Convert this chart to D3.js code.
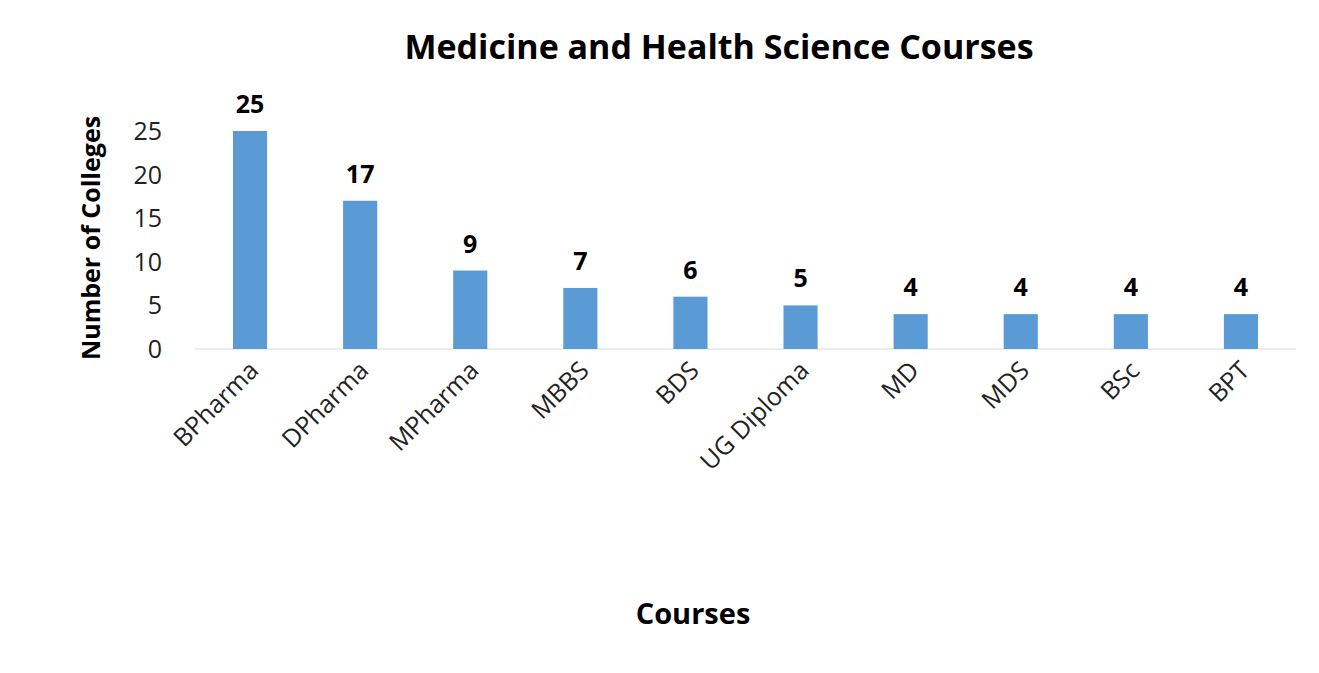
<!DOCTYPE html><html><head><meta charset="utf-8">
<script src="https://cdn.jsdelivr.net/npm/d3@7"></script>
<style>body{margin:0;background:#fff}text{font-family:"Open Sans",sans-serif}</style></head><body>
<svg id="c" width="1319" height="673"></svg>
<script>
const categories=["BPharma","DPharma","MPharma","MBBS","BDS","UG Diploma","MD","MDS","BSc","BPT"];
const values=[25,17,9,7,6,5,4,4,4,4];
const yTicks=[0,5,10,15,20,25];
const svg=d3.select("#c");
const x=d3.scaleBand().domain(categories).range([195,1296]).paddingInner(0.69).paddingOuter(0.345);
const y=d3.scaleLinear().domain([0,25]).range([349,131]);
svg.append("text").attr("x",719).attr("y",59).attr("text-anchor","middle").attr("font-size",34).attr("font-weight","bold").text("Medicine and Health Science Courses");
svg.append("line").attr("x1",195).attr("x2",1296).attr("y1",349).attr("y2",349).attr("stroke","#d9d9d9");
svg.selectAll(".yt").data(yTicks).join("text").attr("x",162).attr("y",d=>y(d)+9).attr("text-anchor","end").attr("font-size",25).attr("fill","#222").text(d=>d);
svg.selectAll(".b").data(values).join("rect").attr("x",(d,i)=>x(categories[i])).attr("width",x.bandwidth()).attr("y",d=>y(d)).attr("height",d=>349-y(d)).attr("fill","#5b9bd5");
svg.selectAll(".v").data(values).join("text").attr("x",(d,i)=>x(categories[i])+x.bandwidth()/2).attr("y",d=>y(d)-18).attr("text-anchor","middle").attr("font-size",25).attr("font-weight","bold").text(d=>d);
svg.selectAll(".c").data(categories).join("text").attr("transform",d=>`translate(${x(d)+x.bandwidth()/2+10},${372}) rotate(-45)`).attr("text-anchor","end").attr("font-size",25).attr("fill","#222").text(d=>d);
svg.append("text").attr("x",693).attr("y",624).attr("text-anchor","middle").attr("font-size",29).attr("font-weight","bold").text("Courses");
svg.append("text").attr("transform","translate(100,238) rotate(-90)").attr("text-anchor","middle").attr("font-size",25).attr("font-weight","bold").text("Number of Colleges");
</script></body></html>
